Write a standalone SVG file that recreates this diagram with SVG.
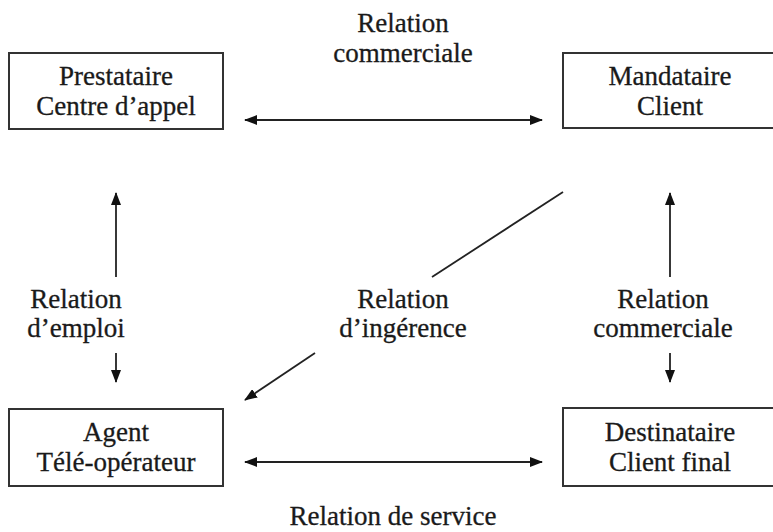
<svg xmlns="http://www.w3.org/2000/svg" width="773" height="532" viewBox="0 0 773 532">
<style>
  .box { fill: #fff; stroke: #333; stroke-width: 2; }
  .t { font-family: "Liberation Serif", "Times New Roman", serif; font-size: 27px; fill: #1a1a1a; text-anchor: middle; stroke: #1a1a1a; stroke-width: 0.3; }
  .c { stroke: #222; stroke-width: 1.8; fill: none; }
</style>
<defs>
  <marker id="ah" viewBox="0 0 13 10" refX="12" refY="5" markerWidth="13" markerHeight="10" markerUnits="userSpaceOnUse" orient="auto-start-reverse">
    <path d="M0,0 L13,5 L0,10 Z" fill="#111"/>
  </marker>
</defs>
<rect width="773" height="532" fill="#fff"/>
<g id="prestataire">
  <rect class="box" x="9" y="53" width="214" height="76"/>
  <text class="t" x="116" y="85">Prestataire</text>
  <text class="t" x="116" y="115">Centre d’appel</text>
</g>
<g id="mandataire">
  <rect class="box" x="563" y="53" width="220" height="75"/>
  <text class="t" x="670" y="85">Mandataire</text>
  <text class="t" x="670" y="115">Client</text>
</g>
<g id="agent">
  <rect class="box" x="9" y="409" width="214" height="77"/>
  <text class="t" x="116" y="441">Agent</text>
  <text class="t" x="116" y="471">Télé-opérateur</text>
</g>
<g id="destinataire">
  <rect class="box" x="563" y="408" width="220" height="78"/>
  <text class="t" x="670" y="441">Destinataire</text>
  <text class="t" x="670" y="471">Client final</text>
</g>
<g id="connectors">
  <line class="c" x1="245" y1="120" x2="542" y2="120" marker-start="url(#ah)" marker-end="url(#ah)"/>
  <line class="c" x1="245" y1="462" x2="542" y2="462" marker-start="url(#ah)" marker-end="url(#ah)"/>
  <line class="c" x1="116" y1="277" x2="116" y2="193" marker-end="url(#ah)"/>
  <line class="c" x1="116" y1="353" x2="116" y2="382" marker-end="url(#ah)"/>
  <line class="c" x1="670" y1="277" x2="670" y2="193" marker-end="url(#ah)"/>
  <line class="c" x1="670" y1="353" x2="670" y2="382" marker-end="url(#ah)"/>
  <line class="c" x1="563" y1="192" x2="432" y2="277"/>
  <line class="c" x1="315" y1="353" x2="245" y2="400" marker-end="url(#ah)"/>
</g>
<g id="labels">
  <text class="t" x="403" y="32">Relation</text>
  <text class="t" x="403" y="62">commerciale</text>
  <text class="t" x="76" y="308">Relation</text>
  <text class="t" x="76" y="337">d’emploi</text>
  <text class="t" x="403" y="308">Relation</text>
  <text class="t" x="403" y="337">d’ingérence</text>
  <text class="t" x="663" y="308">Relation</text>
  <text class="t" x="663" y="337">commerciale</text>
  <text class="t" x="393" y="525">Relation de service</text>
</g>
</svg>
